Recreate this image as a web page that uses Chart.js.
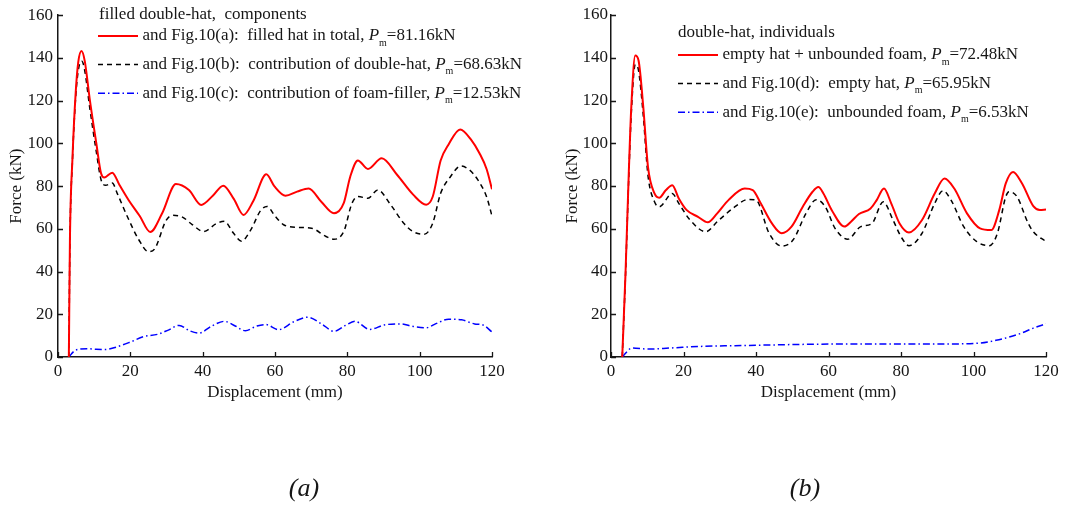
<!DOCTYPE html>
<html>
<head>
<meta charset="utf-8">
<script src="https://cdn.jsdelivr.net/npm/chart.js@4.4.1/dist/chart.umd.min.js"></script>
<style>
  html, body { margin: 0; padding: 0; background: #fff; }
  .panel { position: absolute; top: 0; width: 540px; height: 508px; }
</style>
</head>
<body>
<div class="panel" style="left:0"><canvas id="chartA"></canvas></div>
<div class="panel" style="left:540px"><canvas id="chartB"></canvas></div>
<script>
// ---- panel (a): filled double-hat, components ----
const dispTotalA = [3.0, 3.3, 4.0, 4.9, 5.6, 6.5, 7.4, 8.75, 10.6, 11.9, 12.8, 15.0, 17.0, 19.5, 22.6, 25.5, 28.8, 32.6, 36.2, 39.6, 42.8, 45.7, 48.6, 51.3, 54.0, 57.6, 59.8, 62.9, 66.1, 69.3, 72.8, 76.3, 79.0, 80.8, 82.9, 85.7, 89.5, 93.8, 98.2, 101.8, 103.6, 105.8, 108.0, 111.2, 114.3, 116.5, 118.5, 120];
const forceTotalA = [0, 55, 93, 124, 138, 143.2, 138.5, 121, 100, 86, 84, 86.3, 80.5, 73.5, 66, 58.5, 67.3, 81, 78.2, 71.2, 75.5, 80.2, 74, 66.5, 73, 85.5, 80, 75.5, 77.4, 78.9, 72.7, 67.3, 72, 84.4, 92, 88, 93, 85.2, 76, 71.3, 75, 92, 99.5, 106.5, 101.5, 95.5, 88, 78.5];

const dispHatA = [3.0, 3.3, 4.0, 4.9, 5.7, 6.6, 7.4, 8.75, 10.6, 11.9, 13.2, 15.0, 16.4, 19.1, 22.3, 25.0, 26.8, 29.9, 31.7, 34.4, 37.1, 40.3, 43.8, 46.0, 48.5, 50.7, 53.3, 56.0, 57.8, 60.0, 62.5, 66.1, 70.1, 74.1, 76.3, 79.0, 81.3, 83.0, 85.7, 88.4, 92.0, 95.6, 98.2, 101.3, 103.6, 105.8, 108.5, 111.4, 113.8, 116.1, 118.5, 120];
const forceHatA = [0, 54, 92, 122, 135, 138.5, 134, 117, 96, 83, 80.4, 81.5, 76.5, 66, 55, 49.3, 50.8, 64, 66.3, 65.5, 62, 58.7, 62.5, 63.5, 58, 54.2, 59.5, 68.5, 70.5, 66, 61.8, 60.7, 60.3, 56.4, 55.1, 58.7, 72, 75.1, 74.3, 78.2, 71.2, 62.6, 58.7, 57.5, 62.6, 76.6, 84.4, 89.4, 87.5, 82.9, 75, 66];

const dispFoamA = [3.0, 4.5, 6.0, 8.0, 10.5, 13.0, 16.0, 20.0, 23.6, 27.5, 30.5, 33.5, 36.5, 39.0, 42.5, 46.0, 49.0, 51.8, 55.0, 57.4, 61.0, 65.2, 69.0, 72.8, 76.3, 79.5, 82.1, 86.2, 90.2, 94.7, 98.2, 101.8, 104.5, 108.0, 111.6, 115.2, 117.5, 120];
const forceFoamA = [0, 2.8, 3.7, 3.9, 3.6, 3.5, 4.6, 7, 9.5, 10.6, 12.6, 14.8, 12.2, 11.2, 14.5, 16.7, 14.5, 12.3, 14.5, 15.2, 12.8, 16.5, 18.6, 15.6, 12, 14.8, 16.7, 12.9, 15, 15.5, 14.3, 13.7, 15.6, 17.7, 17.4, 15.5, 15, 11.7];

// ---- panel (b): double-hat, individuals ----
const dispTotalB = [3.1, 4.0, 4.9, 5.6, 6.7, 7.6, 8.9, 10.2, 12.0, 13.3, 15.1, 16.9, 18.7, 20.9, 24.0, 26.7, 29.3, 32.4, 36.9, 39.1, 41.3, 44.4, 47.1, 49.8, 52.9, 55.6, 57.2, 58.6, 60.9, 64.4, 66.2, 68.4, 71.6, 73.3, 75.3, 77.3, 79.6, 82.2, 85.8, 89.3, 92.0, 94.7, 98.2, 101.8, 104.9, 107.1, 108.9, 110.9, 113.4, 116.5, 118.3, 120];
const forceTotalB = [0, 39, 85.8, 117, 141, 138.7, 117, 89, 76.5, 74.5, 78, 80.4, 74.2, 68.7, 65.6, 63, 67.2, 73.4, 78.8, 78.1, 71.9, 62.5, 57.9, 61, 70.3, 77.3, 79.5, 76.5, 68.7, 61, 63.3, 66.9, 69.5, 73.4, 78.8, 71.9, 62.5, 58.3, 64.1, 76.5, 83.5, 78.8, 67.2, 60.2, 59.4, 68.7, 81.2, 86.6, 81.2, 70.6, 68.8, 69];

const dispHatB = [3.1, 4.0, 4.9, 5.6, 6.7, 7.6, 8.9, 10.2, 12.0, 13.3, 16.9, 18.7, 21.8, 26.2, 29.3, 34.2, 37.8, 40.0, 43.6, 47.1, 50.2, 53.8, 56.6, 59.1, 61.8, 65.3, 68.9, 72.0, 75.1, 77.8, 80.0, 82.2, 85.8, 89.3, 91.6, 93.8, 97.3, 100.9, 104.4, 106.6, 108.9, 109.8, 112.0, 115.1, 116.5, 120];
const forceHatB = [0, 38, 84, 114, 136.9, 134, 113, 85, 72.6, 70.3, 76.5, 71.9, 64.1, 58.6, 63.3, 70.3, 73.7, 73.4, 57.9, 51.9, 54.7, 67.2, 73.6, 70.3, 60.2, 55.1, 61, 62.5, 72.6, 64.1, 56.3, 52.1, 57.9, 71.9, 77.8, 73.4, 61, 54, 52.1, 57.9, 75, 77.3, 75, 62.5, 58.6, 54];

const dispFoamB = [3.1, 5.8, 10.2, 16.4, 25.3, 34.2, 43.1, 56.9, 65.3, 78.7, 92.0, 101.8, 106.2, 109.8, 113.3, 116.5, 120];
const forceFoamB = [0, 4.2, 3.7, 4.2, 5, 5.3, 5.6, 6.0, 6.1, 6.1, 6.1, 6.5, 7.8, 9.3, 11.2, 13.5, 15.5];

// axes and legend text
const xTitle = 'Displacement (mm)';
const yTitle = 'Force (kN)';
const legendTitleA = 'filled double-hat,  components';
const legendLabelsA = ['and Fig.10(a):  filled hat in total, ', 'and Fig.10(b):  contribution of double-hat, ', 'and Fig.10(c):  contribution of foam-filler, '];
const meanForceA = ['81.16kN', '68.63kN', '12.53kN'];
const legendTitleB = 'double-hat, individuals';
const legendLabelsB = ['empty hat + unbounded foam, ', 'and Fig.10(d):  empty hat, ', 'and Fig.10(e):  unbounded foam, '];
const meanForceB = ['72.48kN', '65.95kN', '6.53kN'];

const SERIF = '"Liberation Serif", "Times New Roman", serif';
const INK = '#161616';

const toPoints = (xs, ys) => xs.map((x, i) => ({ x: x, y: ys[i] }));

// inward tick marks, legend with P_m subscripts, and the (a)/(b) panel label
const paperDecor = {
  id: 'paperDecor',
  afterDraw(chart, args, opts) {
    const ctx = chart.ctx;
    const area = chart.chartArea;
    const xs = chart.scales.x, ys = chart.scales.y;
    ctx.save();
    ctx.strokeStyle = INK;
    ctx.lineWidth = 1.3;
    ctx.beginPath();
    xs.ticks.forEach(t => {
      const p = Math.round(xs.getPixelForValue(t.value)) + 0.5;
      ctx.moveTo(p, area.bottom);
      ctx.lineTo(p, area.bottom - 5);
    });
    ys.ticks.forEach(t => {
      const p = Math.round(ys.getPixelForValue(t.value)) + 0.5;
      ctx.moveTo(area.left, p);
      ctx.lineTo(area.left + 5, p);
    });
    ctx.stroke();

    // legend
    ctx.fillStyle = INK;
    ctx.textBaseline = 'middle';
    ctx.textAlign = 'left';
    ctx.font = '17px ' + SERIF;
    ctx.fillText(opts.title, opts.titleX, opts.titleY);
    chart.data.datasets.forEach((ds, i) => {
      const y = opts.y + i * opts.rowGap;
      ctx.save();
      ctx.strokeStyle = ds.borderColor;
      ctx.lineWidth = ds.borderWidth;
      ctx.setLineDash(ds.borderDash || []);
      ctx.beginPath();
      ctx.moveTo(opts.x, y);
      ctx.lineTo(opts.x + 40, y);
      ctx.stroke();
      ctx.restore();
      let tx = opts.x + 44.5;
      ctx.font = '17px ' + SERIF;
      ctx.fillText(ds.label, tx, y);
      tx += ctx.measureText(ds.label).width;
      ctx.font = 'italic 17px ' + SERIF;
      ctx.fillText('P', tx, y);
      tx += ctx.measureText('P').width;
      ctx.font = '10px ' + SERIF;
      ctx.fillText('m', tx, y + 7);
      tx += ctx.measureText('m').width;
      ctx.font = '17px ' + SERIF;
      ctx.fillText('=' + opts.means[i], tx, y);
    });

    // panel label
    ctx.font = 'italic 26px ' + SERIF;
    ctx.textAlign = 'center';
    ctx.fillText(opts.panel, opts.panelX, opts.panelY);
    ctx.restore();
  }
};

function makeChart(id, series, labels, means, cfg) {
  const styles = [
    { borderColor: '#ff0000', borderWidth: 2, borderDash: [] },
    { borderColor: '#000000', borderWidth: 1.5, borderDash: [5, 4] },
    { borderColor: '#0000ff', borderWidth: 1.5, borderDash: [7, 3, 1.5, 3] }
  ];
  return new Chart(document.getElementById(id), {
    type: 'line',
    data: {
      datasets: series.map((pts, i) => Object.assign({
        label: labels[i],
        data: pts,
        pointRadius: 0,
        fill: false,
        cubicInterpolationMode: 'monotone'
      }, styles[i]))
    },
    options: {
      responsive: true,
      maintainAspectRatio: false,
      animation: false,
      events: [],
      layout: { padding: { left: cfg.padLeft, right: cfg.padRight, top: 15, bottom: 101 } },
      scales: {
        x: {
          type: 'linear',
          min: 0, max: 120,
          afterFit(s) { s.height = 50; },
          ticks: { stepSize: 20, padding: 4, color: INK, font: { family: SERIF, size: 17 } },
          grid: { drawOnChartArea: false, drawTicks: false },
          border: { color: INK, width: 1.5 },
          title: { display: true, text: xTitle, color: INK, padding: { top: 0, bottom: 4 }, font: { family: SERIF, size: 17 } }
        },
        y: {
          min: 0, max: 160,
          afterFit(s) { s.width = cfg.yWidth; },
          ticks: { stepSize: 20, padding: cfg.yPad, color: INK, font: { family: SERIF, size: 17 } },
          grid: { drawOnChartArea: false, drawTicks: false },
          border: { color: INK, width: 1.5 },
          title: { display: true, text: yTitle, color: INK, padding: { top: 6, bottom: 0 }, font: { family: SERIF, size: 17 } }
        }
      },
      plugins: {
        legend: { display: false },
        tooltip: { enabled: false },
        paperDecor: {
          title: cfg.legendTitle, titleX: cfg.titleX, titleY: cfg.titleY,
          x: cfg.legendX, y: cfg.legendY, rowGap: 28.6, means: means,
          panel: cfg.panel, panelX: cfg.panelX, panelY: 489
        }
      }
    },
    plugins: [paperDecor]
  });
}

makeChart('chartA',
  [toPoints(dispTotalA, forceTotalA), toPoints(dispHatA, forceHatA), toPoints(dispFoamA, forceFoamA)],
  legendLabelsA, meanForceA,
  { padLeft: 0, padRight: 48, yWidth: 58, yPad: 5, legendTitle: legendTitleA, titleX: 99, titleY: 15,
    legendX: 98, legendY: 36, panel: '(a)', panelX: 304 });

makeChart('chartB',
  [toPoints(dispTotalB, forceTotalB), toPoints(dispHatB, forceHatB), toPoints(dispFoamB, forceFoamB)],
  legendLabelsB, meanForceB,
  { padLeft: 16, padRight: 34, yWidth: 55, yPad: 3, legendTitle: legendTitleB, titleX: 138, titleY: 33,
    legendX: 138, legendY: 55, panel: '(b)', panelX: 265 });
</script>
</body>
</html>
